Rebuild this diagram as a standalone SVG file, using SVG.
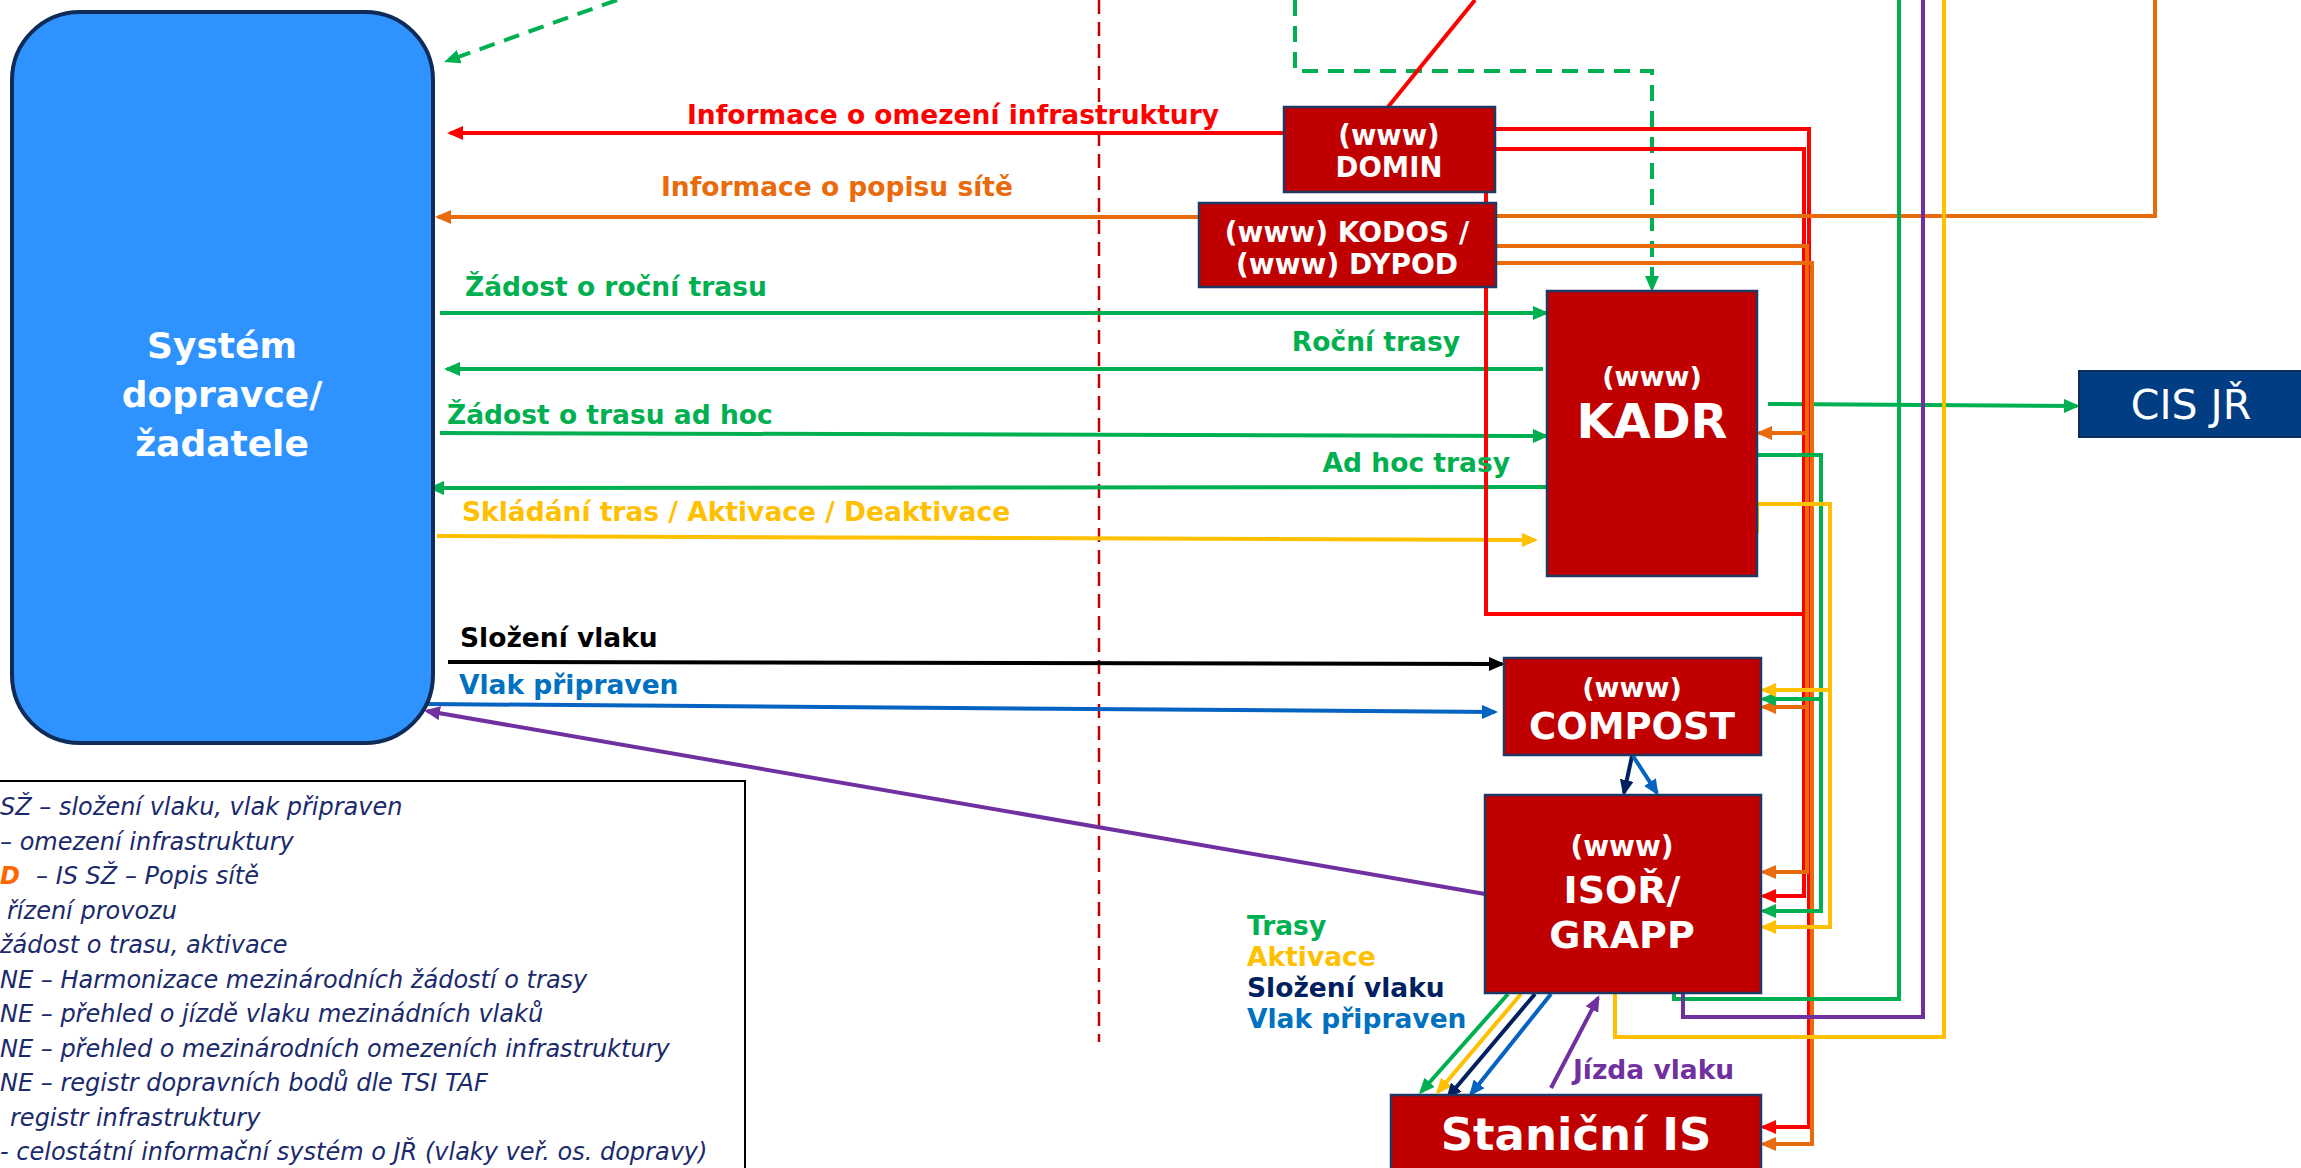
<svg xmlns="http://www.w3.org/2000/svg" width="2301" height="1168" viewBox="0 0 2301 1168">
<style>
text{font-family:'DejaVu Sans','Liberation Sans',sans-serif}
.lbl{font-weight:bold;font-size:26.5px}
.bt{fill:#fff;font-weight:bold;text-anchor:middle}
.leg{font-style:italic;font-size:24px;fill:#1B2A6B}
.rbox{fill:#C00000;stroke:#1F3864;stroke-width:2.5}
.ln{fill:none;stroke-width:4}
.r{stroke:#FF0000}.o{stroke:#EA6B0B}.g{stroke:#00B050}.y{stroke:#FFC000}.p{stroke:#7030A0}.b{stroke:#0563C1}.n{stroke:#002060}.k{stroke:#000}
</style>
<defs>
<marker id="mr" viewBox="0 0 16 14" refX="13" refY="7" markerWidth="16" markerHeight="14" markerUnits="userSpaceOnUse" orient="auto"><path d="M0,0L16,7L0,14z" fill="#FF0000"/></marker>
<marker id="mo" viewBox="0 0 16 14" refX="13" refY="7" markerWidth="16" markerHeight="14" markerUnits="userSpaceOnUse" orient="auto"><path d="M0,0L16,7L0,14z" fill="#EA6B0B"/></marker>
<marker id="mg" viewBox="0 0 16 14" refX="13" refY="7" markerWidth="16" markerHeight="14" markerUnits="userSpaceOnUse" orient="auto"><path d="M0,0L16,7L0,14z" fill="#00B050"/></marker>
<marker id="my" viewBox="0 0 16 14" refX="13" refY="7" markerWidth="16" markerHeight="14" markerUnits="userSpaceOnUse" orient="auto"><path d="M0,0L16,7L0,14z" fill="#FFC000"/></marker>
<marker id="mp" viewBox="0 0 16 14" refX="13" refY="7" markerWidth="16" markerHeight="14" markerUnits="userSpaceOnUse" orient="auto"><path d="M0,0L16,7L0,14z" fill="#7030A0"/></marker>
<marker id="mb" viewBox="0 0 16 14" refX="13" refY="7" markerWidth="16" markerHeight="14" markerUnits="userSpaceOnUse" orient="auto"><path d="M0,0L16,7L0,14z" fill="#0563C1"/></marker>
<marker id="mn" viewBox="0 0 16 14" refX="13" refY="7" markerWidth="16" markerHeight="14" markerUnits="userSpaceOnUse" orient="auto"><path d="M0,0L16,7L0,14z" fill="#002060"/></marker>
<marker id="mk" viewBox="0 0 16 14" refX="13" refY="7" markerWidth="16" markerHeight="14" markerUnits="userSpaceOnUse" orient="auto"><path d="M0,0L16,7L0,14z" fill="#000"/></marker>
</defs>
<rect width="2301" height="1168" fill="#fff"/>

<g id="connectors">
<line x1="1099" y1="0" x2="1099" y2="1042" stroke="#C00000" stroke-width="2.5" stroke-dasharray="14 8"/>
<path class="ln g" d="M617,0L447,61" stroke-dasharray="16 10" marker-end="url(#mg)"/>
<path class="ln g" d="M1295,0V71H1652V289" stroke-dasharray="16 10" marker-end="url(#mg)"/>
<path class="ln r" d="M1388,107L1475,0" stroke-width="3.5"/>
<path class="ln r" d="M1284,133H450" marker-end="url(#mr)"/>
<path class="ln o" d="M1199,217H438" marker-end="url(#mo)"/>
<path class="ln g" d="M440,313H1546" marker-end="url(#mg)"/>
<path class="ln g" d="M1543,369H447" marker-end="url(#mg)"/>
<path class="ln g" d="M440,433L1546,436" marker-end="url(#mg)"/>
<path class="ln g" d="M1547,487L431,488" marker-end="url(#mg)"/>
<path class="ln y" d="M437,536L1535,540" marker-end="url(#my)"/>
<path class="ln k" d="M448,662L1502,664" stroke-width="4.5" marker-end="url(#mk)"/>
<path class="ln b" d="M426,704L1495,712" marker-end="url(#mb)"/>
<path class="ln p" d="M1485,894L427,711" marker-end="url(#mp)"/>
<path class="ln g" d="M1768,404L2077,406" marker-end="url(#mg)"/>

<path class="ln r" d="M1494,129H1809V1127H1763" marker-end="url(#mr)"/>
<path class="ln r" d="M1494,149H1804V896H1763" marker-end="url(#mr)"/>
<path class="ln r" d="M1486,192V614H1806"/>
<path class="ln o" d="M1496,216H2155V0"/>
<path class="ln o" d="M1496,246H1807V872H1763" marker-end="url(#mo)"/>
<path class="ln o" d="M1807,433H1759" marker-end="url(#mo)"/>
<path class="ln o" d="M1807,707H1763" marker-end="url(#mo)"/>
<path class="ln o" d="M1497,263H1812V1144H1763" marker-end="url(#mo)"/>
<path class="ln g" d="M1756,455H1821V911H1763" marker-end="url(#mg)"/>
<path class="ln g" d="M1821,699H1763" marker-end="url(#mg)"/>
<path class="ln y" d="M1757,533V504H1830V927H1763" marker-end="url(#my)"/>
<path class="ln y" d="M1830,690H1763" marker-end="url(#my)"/>
<path class="ln g" d="M1674,994V999H1899V0"/>
<path class="ln p" d="M1683,994V1017H1923V0"/>
<path class="ln y" d="M1615,994V1037H1944V0"/>

<path class="ln n" d="M1632,756L1624,793" marker-end="url(#mn)"/>
<path class="ln b" d="M1633,756L1657,793" marker-end="url(#mb)"/>
<path class="ln g" d="M1508,994L1421,1092" marker-end="url(#mg)"/>
<path class="ln y" d="M1521,994L1438,1092" marker-end="url(#my)"/>
<path class="ln n" d="M1535,994L1448,1097" marker-end="url(#mn)"/>
<path class="ln b" d="M1551,994L1471,1094" marker-end="url(#mb)"/>
<path class="ln p" d="M1551,1088L1598,998" marker-end="url(#mp)"/>

<text class="lbl" x="687" y="124" fill="#FF0000">Informace o omezení infrastruktury</text>
<text class="lbl" x="661" y="196" fill="#EA6B0B">Informace o popisu sítě</text>
<text class="lbl" x="465" y="296" fill="#00B050">Žádost o roční trasu</text>
<text class="lbl" x="1460" y="351" fill="#00B050" text-anchor="end">Roční trasy</text>
<text class="lbl" x="447" y="424" fill="#00B050">Žádost o trasu ad hoc</text>
<text class="lbl" x="1510" y="472" fill="#00B050" text-anchor="end">Ad hoc trasy</text>
<text class="lbl" x="462" y="521" fill="#FFC000">Skládání tras / Aktivace / Deaktivace</text>
<text class="lbl" x="460" y="647" fill="#000">Složení vlaku</text>
<text class="lbl" x="459" y="694" fill="#0070C0">Vlak připraven</text>
<text class="lbl" x="1247" y="935" fill="#00B050" font-size="26">Trasy</text>
<text class="lbl" x="1247" y="966" fill="#FFC000" font-size="26">Aktivace</text>
<text class="lbl" x="1247" y="997" fill="#002060" font-size="26">Složení vlaku</text>
<text class="lbl" x="1247" y="1028" fill="#0070C0" font-size="26">Vlak připraven</text>
<text class="lbl" x="1573" y="1079" fill="#7030A0" font-size="27.5">Jízda vlaku</text>
</g>

<g id="node-dopravce">
<rect x="12" y="12" width="421" height="731" rx="68" ry="68" fill="#2E92FF" stroke="#0F2C59" stroke-width="4"/>
<text class="bt" x="222" y="358" font-size="36">Systém</text>
<text class="bt" x="222" y="407" font-size="36">dopravce/</text>
<text class="bt" x="222" y="456" font-size="36">žadatele</text>
</g>

<g id="node-domin">
<rect class="rbox" x="1284" y="107" width="211" height="85"/>
<text class="bt" x="1389" y="145" font-size="27.5">(www)</text>
<text class="bt" x="1389" y="177" font-size="27.5">DOMIN</text>
</g>

<g id="node-kodos">
<rect class="rbox" x="1199" y="203" width="297" height="84"/>
<text class="bt" x="1347" y="242" font-size="28">(www) KODOS /</text>
<text class="bt" x="1347" y="274" font-size="28">(www) DYPOD</text>
</g>

<g id="node-kadr">
<rect class="rbox" x="1547" y="291" width="210" height="285"/>
<text class="bt" x="1652" y="386" font-size="27">(www)</text>
<text class="bt" x="1652" y="438" font-size="48">KADR</text>
</g>

<g id="node-cis">
<rect x="2079" y="371" width="230" height="66" fill="#003D82" stroke="#0F2C59" stroke-width="2"/>
<text x="2191" y="419" font-size="41" fill="#fff" text-anchor="middle">CIS JŘ</text>
</g>

<g id="node-compost">
<rect class="rbox" x="1504" y="658" width="257" height="97"/>
<text class="bt" x="1632" y="697" font-size="27">(www)</text>
<text class="bt" x="1632" y="739" font-size="37">COMPOST</text>
</g>

<g id="node-isor">
<rect class="rbox" x="1485" y="795" width="276" height="198"/>
<text class="bt" x="1622" y="856" font-size="28">(www)</text>
<text class="bt" x="1622" y="903" font-size="38">ISOŘ/</text>
<text class="bt" x="1622" y="948" font-size="38">GRAPP</text>
</g>

<g id="node-stanicni">
<rect class="rbox" x="1391" y="1095" width="370" height="80"/>
<text class="bt" x="1576" y="1150" font-size="45">Staniční IS</text>
</g>

<g id="legend">
<rect x="-10" y="781" width="755" height="400" fill="#fff" stroke="#000" stroke-width="2"/>
<text class="leg" x="0" y="815">SŽ – složení vlaku, vlak připraven</text>
<text class="leg" x="0" y="850">– omezení infrastruktury</text>
<text class="leg" x="0" y="884"><tspan fill="#FF6600" font-weight="bold">D</tspan><tspan x="36">– IS SŽ – Popis sítě</tspan></text>
<text class="leg" x="7" y="919">řízení provozu</text>
<text class="leg" x="0" y="953">žádost o trasu, aktivace</text>
<text class="leg" x="0" y="988">NE – Harmonizace mezinárodních žádostí o trasy</text>
<text class="leg" x="0" y="1022">NE – přehled o jízdě vlaku mezinádních vlaků</text>
<text class="leg" x="0" y="1057">NE – přehled o mezinárodních omezeních infrastruktury</text>
<text class="leg" x="0" y="1091">NE – registr dopravních bodů dle TSI TAF</text>
<text class="leg" x="10" y="1126">registr infrastruktury</text>
<text class="leg" x="0" y="1160">- celostátní informační systém o JŘ (vlaky veř. os. dopravy)</text>
</g>
</svg>
